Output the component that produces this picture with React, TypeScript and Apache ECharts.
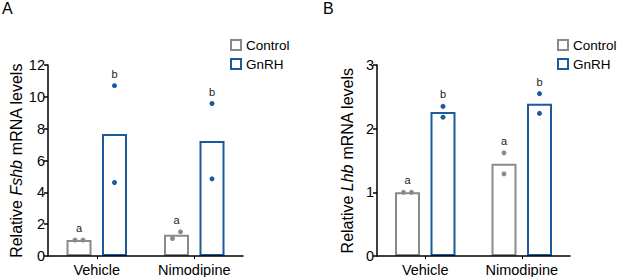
import React, { useEffect, useRef } from "react";
import * as echarts from "echarts";

const categories = ["Vehicle", "Nimodipine"];
const fshbControlMean = [1.0, 1.33];
const fshbControlPts = [[1.0, 1.0], [1.1, 1.52]];
const fshbGnrhMean = [7.66, 7.22];
const fshbGnrhPts = [[10.7, 4.62], [9.58, 4.85]];
const lhbControlMean = [1.0, 1.45];
const lhbControlPts = [[1.0, 1.0], [1.62, 1.29]];
const lhbGnrhMean = [2.26, 2.39];
const lhbGnrhPts = [[2.35, 2.18], [2.55, 2.24]];
const controlLetters = ["a", "a"];
const gnrhLetters = ["b", "b"];
const fshbTicks = { min: 0, max: 12, interval: 2 };
const lhbTicks = { min: 0, max: 3, interval: 1 };

const GRAY = "#8a8a8a";
const BLUE = "#1b5a9b";
const FONT = "Liberation Sans, Arial, sans-serif";
const BAR_W = 25;
const GAP_PX = BAR_W * 0.42;

function dotsRenderer(sign: number, color: string, letters: string[]) {
  return (params: any, api: any) => {
    const c = api.value(0);
    const m = api.value(1);
    const a = api.value(2);
    const b = api.value(3);
    const pm = api.coord([c, m]);
    const pa = api.coord([c, a]);
    const pb = api.coord([c, b]);
    const cx = pm[0] + sign * (BAR_W / 2 + GAP_PX / 2);
    let xa = cx;
    let xb = cx;
    if (Math.abs(pa[1] - pb[1]) < 8) {
      if (a <= b) {
        xa = cx - 4;
        xb = cx + 4;
      } else {
        xa = cx + 4;
        xb = cx - 4;
      }
    }
    const top = Math.min(pa[1], pb[1], pm[1]);
    return {
      type: "group",
      children: [
        { type: "circle", shape: { cx: xa, cy: pa[1], r: 2.5 }, style: { fill: color } },
        { type: "circle", shape: { cx: xb, cy: pb[1], r: 2.5 }, style: { fill: color } },
        {
          type: "text",
          x: cx,
          y: top - 12,
          style: {
            text: letters[params.dataIndex],
            fill: "#222",
            font: `11px ${FONT}`,
            align: "center",
            verticalAlign: "middle",
          },
        },
      ],
    };
  };
}

function dotData(means: number[], pts: number[][]) {
  return means.map((m, i) => [i, m, pts[i][0], pts[i][1]]);
}

function panel(idx: number, mCtrl: number[], pCtrl: number[][], mG: number[], pG: number[][]) {
  return [
    {
      name: "Control",
      type: "bar",
      xAxisIndex: idx,
      yAxisIndex: idx,
      data: mCtrl,
      barWidth: BAR_W,
      barGap: "42%",
      itemStyle: { color: "#fff", borderColor: GRAY, borderWidth: 2 },
      z: 2,
    },
    {
      name: "GnRH",
      type: "bar",
      xAxisIndex: idx,
      yAxisIndex: idx,
      data: mG,
      barWidth: BAR_W,
      barGap: "42%",
      itemStyle: { color: "#fff", borderColor: BLUE, borderWidth: 2 },
      z: 2,
    },
    {
      name: "ControlDots",
      type: "custom",
      xAxisIndex: idx,
      yAxisIndex: idx,
      data: dotData(mCtrl, pCtrl),
      encode: { x: 0, y: [1, 2, 3] },
      renderItem: dotsRenderer(-1, GRAY, controlLetters),
      z: 5,
    },
    {
      name: "GnRHDots",
      type: "custom",
      xAxisIndex: idx,
      yAxisIndex: idx,
      data: dotData(mG, pG),
      encode: { x: 0, y: [1, 2, 3] },
      renderItem: dotsRenderer(1, BLUE, gnrhLetters),
      z: 5,
    },
  ];
}

function xAxis(idx: number) {
  return {
    type: "category",
    gridIndex: idx,
    data: categories,
    z: 10,
    axisLine: { lineStyle: { color: "#000", width: 1.5 } },
    axisTick: { show: true, alignWithLabel: true, length: 3, lineStyle: { color: "#000", width: 1 } },
    axisLabel: { color: "#000", fontSize: 14.5, fontFamily: FONT, margin: 6 },
  };
}

function yAxis(idx: number, ticks: any, gene: string) {
  return {
    type: "value",
    gridIndex: idx,
    min: ticks.min,
    max: ticks.max,
    interval: ticks.interval,
    z: 10,
    splitLine: { show: false },
    axisLine: { show: true, lineStyle: { color: "#000", width: 1.5 } },
    axisTick: { show: true, length: 4, lineStyle: { color: "#000", width: 1.5 } },
    axisLabel: { color: "#000", fontSize: 14.5, fontFamily: FONT, margin: 3 },
    name: `{n|Relative }{i|${gene}}{n| mRNA levels}`,
    nameLocation: "middle",
    nameRotate: 90,
    nameGap: 22,
    nameTextStyle: {
      fontSize: 16,
      fontFamily: FONT,
      color: "#000",
      rich: {
        n: { fontSize: 16, fontFamily: FONT, color: "#000" },
        i: { fontSize: 16, fontFamily: FONT, color: "#000", fontStyle: "italic" },
      },
    },
  };
}

function legend(left: number) {
  return {
    orient: "vertical",
    left,
    top: 38,
    padding: 0,
    data: ["Control", "GnRH"],
    icon: "rect",
    itemWidth: 10,
    itemHeight: 10,
    itemGap: 5,
    selectedMode: false,
    textStyle: { fontSize: 13.5, fontFamily: FONT, color: "#000" },
  };
}

const titleStyle = { fontSize: 16, fontWeight: "normal", fontFamily: FONT, color: "#000" };

export default function App() {
  const ref = useRef<HTMLDivElement>(null);
  useEffect(() => {
    if (!ref.current) return;
    const chart = echarts.init(ref.current, null, { renderer: "svg" });
    chart.setOption({
      animation: false,
      backgroundColor: "#fff",
      title: [
        { text: "A", left: 2, top: 0, padding: 0, textStyle: titleStyle },
        { text: "B", left: 323, top: 0, padding: 0, textStyle: titleStyle },
      ],
      legend: [legend(230), legend(557)],
      grid: [
        { left: 48, top: 65, width: 195, height: 192 },
        { left: 377, top: 65, width: 193, height: 192 },
      ],
      xAxis: [xAxis(0), xAxis(1)],
      yAxis: [yAxis(0, fshbTicks, "Fshb"), yAxis(1, lhbTicks, "Lhb")],
      series: [
        ...panel(0, fshbControlMean, fshbControlPts, fshbGnrhMean, fshbGnrhPts),
        ...panel(1, lhbControlMean, lhbControlPts, lhbGnrhMean, lhbGnrhPts),
      ],
    });
    return () => chart.dispose();
  }, []);
  return (
    <div
      ref={ref}
      style={{ position: "fixed", left: 0, top: 0, width: 617, height: 277, background: "#fff" }}
    />
  );
}
